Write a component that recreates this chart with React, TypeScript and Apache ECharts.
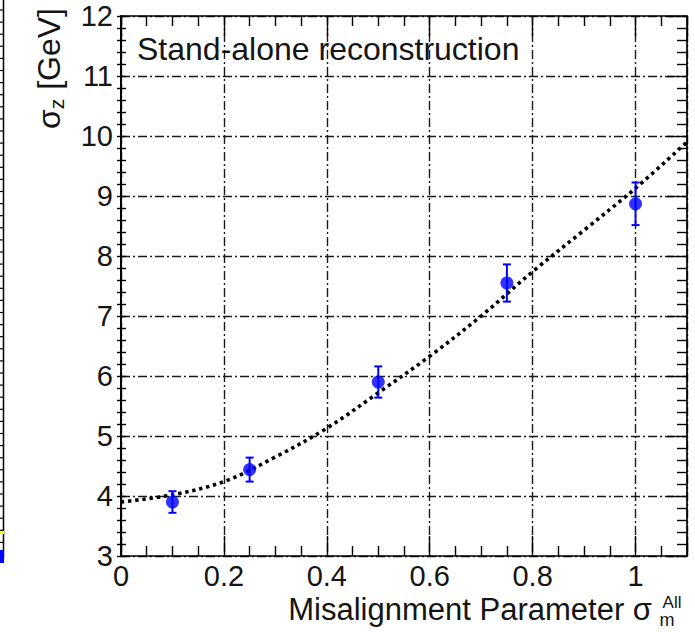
import React, { useEffect, useRef } from "react";
import * as echarts from "echarts";

// Measured resolution vs. misalignment scale
const misalignment = [0.1, 0.25, 0.5, 0.75, 1.0];
const sigmaZ = [3.9, 4.44, 5.9, 7.55, 8.87];
const sigmaZErr = [0.18, 0.2, 0.26, 0.31, 0.355];

// Fitted curve, sampled along x
const fitX = [0, 0.1, 0.2, 0.3, 0.4, 0.5, 0.6, 0.7, 0.8, 0.9, 1.0, 1.1];
const fitY = [3.9, 4.02, 4.24, 4.65, 5.13, 5.72, 6.33, 7.0, 7.74, 8.43, 9.13, 9.9];

const X_MIN = 0;
const X_MAX = 1.1;
const X_STEP = 0.2;
const Y_MIN = 3;
const Y_MAX = 12;
const Y_STEP = 1;

const FONT = "'Liberation Sans', Arial, Helvetica, sans-serif";
const TEXT_COLOR = "#151515";
const GRID_LINE = { color: "#1a1a1a", width: 1.4, type: [9, 3, 2, 3] as number[] };
const AXIS_LINE = { color: "#000", width: 1.7 };
const TICK_STYLE = { color: "#000", width: 1.4 };

export default function App() {
  const ref = useRef<HTMLDivElement>(null);

  useEffect(() => {
    if (!ref.current) return;
    const chart = echarts.init(ref.current, undefined, { renderer: "svg" });

    const xBase = {
      type: "value" as const,
      min: X_MIN,
      max: X_MAX,
      interval: X_STEP,
      axisLine: { show: true, onZero: false, lineStyle: AXIS_LINE },
      axisTick: { show: true, inside: true, length: 20, lineStyle: TICK_STYLE },
      minorTick: { show: true, splitNumber: 4, length: 10, lineStyle: TICK_STYLE },
    };
    const yBase = {
      type: "value" as const,
      min: Y_MIN,
      max: Y_MAX,
      interval: Y_STEP,
      axisLine: { show: true, onZero: false, lineStyle: AXIS_LINE },
      axisTick: { show: true, inside: true, length: 20, lineStyle: TICK_STYLE },
      minorTick: { show: true, splitNumber: 5, length: 10, lineStyle: TICK_STYLE },
    };

    // Neighbouring panel's right edge (ticks along its frame)
    const edgeTicks: any[] = [];
    for (let y = 10; y < 556; y += 12.1) {
      edgeTicks.push({
        type: "line",
        shape: { x1: 0, y1: y, x2: 4, y2: y },
        style: { stroke: "#000", lineWidth: 1.2 },
      });
    }

    chart.setOption({
      animation: false,
      backgroundColor: "#fff",
      grid: { left: 121, right: 8, top: 16, bottom: 76, containLabel: false },
      xAxis: [
        {
          ...xBase,
          position: "bottom",
          axisLabel: {
            show: true,
            showMaxLabel: false,
            margin: 5,
            fontSize: 29,
            color: TEXT_COLOR,
            fontFamily: FONT,
          },
          splitLine: { show: true, lineStyle: GRID_LINE },
        },
        {
          ...xBase,
          position: "top",
          axisLabel: { show: false },
          splitLine: { show: false },
        },
      ],
      yAxis: [
        {
          ...yBase,
          position: "left",
          axisTick: { show: true, inside: true, length: 5, lineStyle: TICK_STYLE },
          minorTick: { show: true, splitNumber: 5, length: 5, lineStyle: TICK_STYLE },
          axisLabel: {
            show: true,
            margin: 8,
            fontSize: 29,
            color: TEXT_COLOR,
            fontFamily: FONT,
          },
          splitLine: { show: true, lineStyle: GRID_LINE },
        },
        {
          ...yBase,
          position: "left",
          axisTick: { show: true, inside: false, length: 4, lineStyle: TICK_STYLE },
          minorTick: { show: true, splitNumber: 5, length: 4, lineStyle: TICK_STYLE },
          axisLabel: { show: false },
          splitLine: { show: false },
        },
        {
          ...yBase,
          position: "right",
          axisLabel: { show: false },
          splitLine: { show: false },
        },
      ],
      series: [
        {
          name: "fit",
          type: "line",
          xAxisIndex: 0,
          yAxisIndex: 0,
          data: fitX.map((x, i) => [x, fitY[i]]),
          smooth: 0.35,
          symbol: "none",
          lineStyle: { color: "#000", width: 3.6, type: [3.4, 3.8], cap: "butt" },
          z: 3,
        },
        {
          name: "errors",
          type: "custom",
          xAxisIndex: 0,
          yAxisIndex: 0,
          data: misalignment.map((x, i) => [x, sigmaZ[i], sigmaZErr[i]]),
          renderItem: (_params: any, api: any) => {
            const x = api.value(0);
            const y = api.value(1);
            const e = api.value(2);
            const top = api.coord([x, y + e]);
            const bot = api.coord([x, y - e]);
            const cap = 4;
            const st = { stroke: "#0000ff", lineWidth: 2 };
            return {
              type: "group",
              children: [
                { type: "line", shape: { x1: top[0], y1: top[1], x2: bot[0], y2: bot[1] }, style: st },
                { type: "line", shape: { x1: top[0] - cap, y1: top[1], x2: top[0] + cap, y2: top[1] }, style: st },
                { type: "line", shape: { x1: bot[0] - cap, y1: bot[1], x2: bot[0] + cap, y2: bot[1] }, style: st },
              ],
            };
          },
          z: 4,
        },
        {
          name: "sigma_z",
          type: "scatter",
          xAxisIndex: 0,
          yAxisIndex: 0,
          data: misalignment.map((x, i) => [x, sigmaZ[i]]),
          symbol: "circle",
          symbolSize: 13,
          itemStyle: { color: "#0000ff" },
          z: 5,
        },
      ],
      graphic: [
        {
          type: "text",
          x: 137,
          y: 49,
          style: {
            text: "Stand-alone reconstruction",
            font: `32px ${FONT}`,
            fill: TEXT_COLOR,
            align: "left",
            verticalAlign: "middle",
          },
          z: 10,
        },
        {
          type: "text",
          x: 49,
          y: 8,
          rotation: Math.PI / 2,
          style: {
            text: "{s|σ}{sub|z}{s| [GeV]}",
            align: "right",
            verticalAlign: "middle",
            rich: {
              s: { font: `32px ${FONT}`, fill: TEXT_COLOR, lineHeight: 36 },
              sub: { font: `21px ${FONT}`, fill: TEXT_COLOR, padding: [15, 0, 0, 0], lineHeight: 21 },
            },
          },
        },
        {
          type: "text",
          x: 652,
          y: 609,
          style: {
            text: "Misalignment Parameter σ",
            font: `31px ${FONT}`,
            fill: TEXT_COLOR,
            align: "right",
            verticalAlign: "middle",
          },
        },
        {
          type: "text",
          x: 672,
          y: 602,
          style: { text: "All", font: `17px ${FONT}`, fill: TEXT_COLOR, align: "center", verticalAlign: "middle" },
        },
        {
          type: "text",
          x: 667,
          y: 620,
          style: { text: "m", font: `18px ${FONT}`, fill: TEXT_COLOR, align: "center", verticalAlign: "middle" },
        },
        // neighbouring panel fragment
        {
          type: "line",
          shape: { x1: 3.5, y1: 0, x2: 3.5, y2: 558 },
          style: { stroke: "#000", lineWidth: 1.5 },
        },
        ...edgeTicks,
        { type: "rect", shape: { x: 0, y: 531, width: 4, height: 3 }, style: { fill: "#ffff00" } },
        { type: "rect", shape: { x: 0, y: 550, width: 4, height: 13 }, style: { fill: "#0000ff" } },
        {
          type: "text",
          x: -14,
          y: 617,
          style: { text: "0", font: `30px ${FONT}`, fill: TEXT_COLOR, align: "center", verticalAlign: "middle" },
        },
      ],
    });

    return () => chart.dispose();
  }, []);

  return (
    <div
      ref={ref}
      style={{ position: "absolute", left: 0, top: 0, width: 695, height: 632, background: "#fff" }}
    />
  );
}
